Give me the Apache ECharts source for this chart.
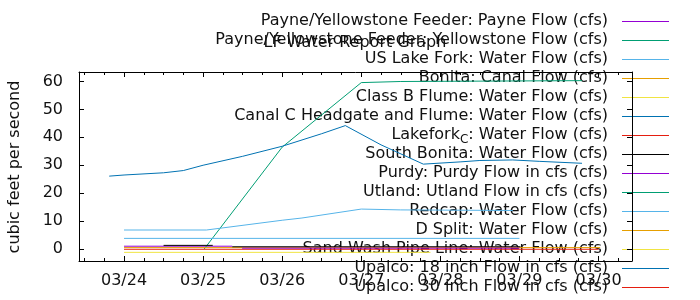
<!DOCTYPE html>
<html>
<head>
<meta charset="utf-8">
<script src="https://cdn.jsdelivr.net/npm/echarts@6/dist/echarts.min.js"></script>
<style>html,body{margin:0;padding:0;background:#fff}#c{width:700px;height:300px}</style>
</head>
<body>
<div id="c"></div>
<script>
// ---- data (times are 'MM/DD HH:mm', values in cfs) ----
const chartTitle = 'LF Water Report Graph';
const yAxisTitle = 'cubic feet per second';
const dayTicks = ['03/24', '03/25', '03/26', '03/27', '03/28', '03/29', '03/30'];
const yTicks = [0, 10, 20, 30, 40, 50, 60];

const payneFlow = [['03/24 00:00', 1.0], ['03/25 08:50', 1.0]];
const yellowstoneFlow = [['03/25 00:20', 0], ['03/26 00:00', 36.5], ['03/27 00:00', 59.6], ['03/27 12:00', 60.0], ['03/29 19:00', 60.3]];
const usLakeFork = [['03/24 00:00', 6.8], ['03/25 01:00', 6.8], ['03/26 00:00', 10.3], ['03/26 06:00', 11.1], ['03/27 00:00', 14.3], ['03/27 12:00', 14.0], ['03/28 22:00', 13.8]];
const bonitaCanal = [['03/24 00:00', 0.5], ['03/30 00:30', 0.5]];
const classBFlume = [['03/24 00:00', -1.2], ['03/27 21:00', -1.2]];
const canalC = [['03/23 19:30', 26.1], ['03/24 00:00', 26.5], ['03/24 12:00', 27.3], ['03/24 18:00', 28.1], ['03/25 00:00', 30.0], ['03/25 12:00', 33.2], ['03/26 00:00', 36.8], ['03/26 12:00', 41.3], ['03/26 19:10', 44.2], ['03/27 06:00', 37.3], ['03/27 18:50', 30.4], ['03/28 06:00', 31.2], ['03/28 12:00', 31.7], ['03/28 22:00', 31.9], ['03/29 06:00', 31.4], ['03/29 19:00', 30.7]];
const lakeforkC = [['03/24 00:00', -0.1], ['03/30 00:00', -0.1]];
const southBonita = [['03/24 12:00', 1.3], ['03/25 02:55', 1.3], ['03/25 06:00', null], ['03/25 08:50', 0.8], ['03/29 00:20', 0.8]];
const purdyFlow = [['03/25 11:50', 0.3], ['03/29 00:00', 0.3]];
const utlandFlow = [];
const redcapFlow = [['03/24 00:00', 3.8], ['03/29 00:00', 3.8]];
const dSplit = [];
const sandWash = [];
const upalco18 = [];
const upalco30 = [];

const seriesNames = [
  'Payne/Yellowstone Feeder: Payne Flow (cfs)',
  'Payne/Yellowstone Feeder: Yellowstone Flow (cfs)',
  'US Lake Fork: Water Flow (cfs)',
  'Bonita: Canal Flow (cfs)',
  'Class B Flume: Water Flow (cfs)',
  'Canal C Headgate and Flume: Water Flow (cfs)',
  'Lakefork_C: Water Flow (cfs)',
  'South Bonita: Water Flow (cfs)',
  'Purdy: Purdy Flow in cfs (cfs)',
  'Utland: Utland Flow in cfs (cfs)',
  'Redcap: Water Flow (cfs)',
  'D Split: Water Flow (cfs)',
  'Sand Wash Pipe Line: Water Flow (cfs)',
  'Upalco: 18 inch Flow in cfs (cfs)',
  'Upalco: 30 inch Flow in cfs (cfs)'
];
const seriesData = [payneFlow, yellowstoneFlow, usLakeFork, bonitaCanal, classBFlume, canalC, lakeforkC, southBonita, purdyFlow, utlandFlow, redcapFlow, dSplit, sandWash, upalco18, upalco30];
const seriesColors = ['#9400d3', '#009e73', '#56b4e9', '#e69f00', '#f0e442', '#0072b2', '#e51e10', '#000000', '#9400d3', '#009e73', '#56b4e9', '#e69f00', '#f0e442', '#0072b2', '#e51e10'];

// ---- helpers ----
function toDays(s) { // days since 03/24 00:00
  const m = s.match(/(\d+)\/(\d+) (\d+):(\d+)/);
  return (+m[2] - 24) + (+m[1] - 3) * 31 + (+m[3]) / 24 + (+m[4]) / 1440;
}
const X_MIN = toDays('03/23 10:20');
const X_MAX = toDays('03/30 10:10');
const Y_MIN = -4.3, Y_MAX = 63.4;
const dayVals = dayTicks.map(d => toDays(d + ' 00:00'));
const quarterVals = [];
for (let q = Math.ceil(X_MIN * 4); q <= Math.floor(X_MAX * 4); q++) quarterVals.push(q / 4);

const FONT = 'DejaVu Sans';
const TXT = '#111';
const chart = echarts.init(document.getElementById('c'), null, { renderer: 'canvas' });

// border axis (line + optional labels, no ticks)
function xBorder(pos, labels) {
  return {
    type: 'value', position: pos, min: X_MIN, max: X_MAX, gridIndex: 0,
    axisLine: { show: true, onZero: false, lineStyle: { color: '#000', width: 1 } },
    splitLine: { show: false }, axisTick: { show: false },
    axisLabel: labels ? {
      show: true, customValues: dayVals, margin: 12, fontFamily: FONT, fontSize: 16, color: TXT,
      formatter: v => { const i = dayVals.findIndex(d => Math.abs(d - v) < 1e-6); return i >= 0 ? dayTicks[i] : ''; }
    } : { show: false }
  };
}
// tick-only axis, shifted into the plot so its outward ticks point inward from the border
function xTicks(pos, vals, len) {
  return {
    type: 'value', position: pos, min: X_MIN, max: X_MAX, gridIndex: 0, offset: -len,
    axisLine: { show: false, onZero: false }, splitLine: { show: false }, axisLabel: { show: false },
    axisTick: { show: true, inside: false, length: len, customValues: vals, lineStyle: { color: '#000', width: 1 } }
  };
}
function yBorder(pos, labels) {
  return {
    type: 'value', position: pos, min: Y_MIN, max: Y_MAX, gridIndex: 0,
    axisLine: { show: true, onZero: false, lineStyle: { color: '#000', width: 1 } },
    splitLine: { show: false }, axisTick: { show: false },
    axisLabel: labels ? { show: true, customValues: yTicks, margin: 16, fontFamily: FONT, fontSize: 16, color: TXT } : { show: false }
  };
}
function yTickAx(pos, len) {
  return {
    type: 'value', position: pos, min: Y_MIN, max: Y_MAX, gridIndex: 0, offset: -len,
    axisLine: { show: false, onZero: false }, splitLine: { show: false }, axisLabel: { show: false },
    axisTick: { show: true, inside: false, length: len, customValues: yTicks, lineStyle: { color: '#000', width: 1 } }
  };
}

const series = seriesNames.map((n, i) => ({
  name: n, type: 'line', xAxisIndex: 0, yAxisIndex: 0,
  data: seriesData[i].map(p => [toDays(p[0]), p[1]]),
  showSymbol: false, symbol: 'none', connectNulls: false,
  lineStyle: { width: 1, color: seriesColors[i] }, itemStyle: { color: seriesColors[i] },
  emphasis: { disabled: true }, animation: false, silent: true
}));

// key (gnuplot style: right-aligned text, sample line to its right)
const KEY_TEXT_RIGHT = 608, KEY_LINE_X1 = 622, KEY_LINE_X2 = 669, KEY_TOP = 21, KEY_STEP = 19;
const keyElems = [];
seriesNames.forEach((n, i) => {
  const y = KEY_TOP + i * KEY_STEP;
  const txt = n.replace('_C', '{sub|C}');
  keyElems.push({
    type: 'text', z: 0, silent: true,
    style: {
      text: txt, x: KEY_TEXT_RIGHT, y: y, align: 'right', verticalAlign: 'middle',
      font: '16px "DejaVu Sans"', fill: TXT,
      rich: { sub: { font: '12px "DejaVu Sans"', fill: TXT, padding: [9, 0, 0, 0] } }
    }
  });
  keyElems.push({
    type: 'line', z: 0, silent: true,
    shape: { x1: KEY_LINE_X1, y1: Math.round(y) + 0.5, x2: KEY_LINE_X2, y2: Math.round(y) + 0.5 },
    style: { stroke: seriesColors[i], lineWidth: 1 }
  });
});
keyElems.push({
  type: 'text', z: 0, silent: true, x: 15, y: 167, rotation: Math.PI / 2,
  style: { text: yAxisTitle, x: 0, y: 0, align: 'center', verticalAlign: 'middle', font: '16px "DejaVu Sans"', fill: TXT }
});

chart.setOption({
  animation: false,
  title: { text: chartTitle, left: 355, top: 35, textAlign: 'center', padding: 0,
    textStyle: { fontFamily: FONT, fontSize: 16, fontWeight: 'normal', color: TXT } },
  grid: { left: 79, top: 72, right: 68, bottom: 39, show: false, containLabel: false },
  xAxis: [xBorder('bottom', true), xTicks('bottom', dayVals, 5), xTicks('bottom', quarterVals, 3),
          xBorder('top', false), xTicks('top', dayVals, 5), xTicks('top', quarterVals, 3)],
  yAxis: [yBorder('left', true), yTickAx('left', 5), yBorder('right', false), yTickAx('right', 5)],
  graphic: keyElems,
  series: series
});
</script>
</body>
</html>
